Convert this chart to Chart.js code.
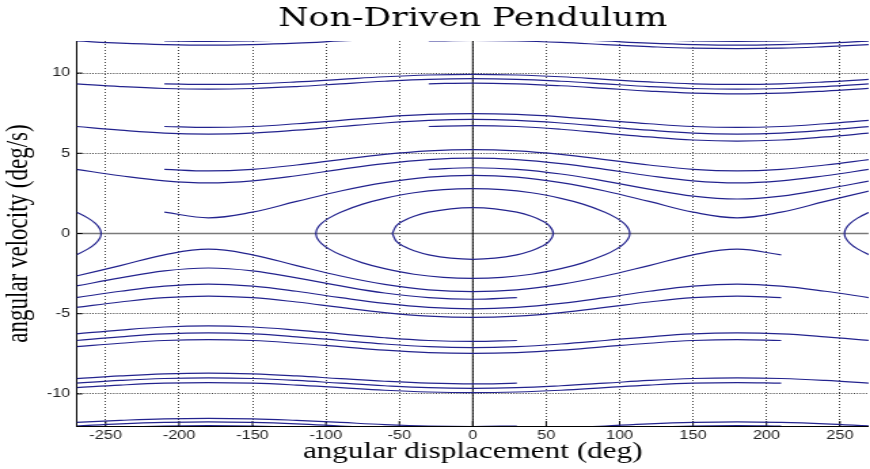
<!DOCTYPE html>
<html>
<head>
<meta charset="utf-8">
<script src="https://cdn.jsdelivr.net/npm/chart.js@4/dist/chart.umd.min.js"></script>
<style>
  html, body { margin: 0; padding: 0; background: #fff; overflow: hidden; width: 870px; height: 469px; }
  #wrap { position: absolute; left: 0; top: 0; width: 641px; height: 469px; transform: scaleX(1.3573); transform-origin: 0 0; }
</style>
</head>
<body>
<div id="wrap"><canvas id="c"></canvas></div>
<script>
// ---- tick labels ----
const xTicks = [-250, -200, -150, -100, -50, 0, 50, 100, 150, 200, 250];
const yTicks = [-10, -5, 0, 5, 10];

// ---- angular displacement samples (deg) ----
const thetaA = [-270,-240,-210,-180,-150,-120,-90,-60,-30,0,30,60,90,120,150,180,210,240,270];
const thetaB = [-210,-180,-150,-120,-90,-60,-30,0,30,60,90,120,150,180,210,240,270];
const thetaC = [-30,0,30,60,90,120,150,180,210,240,270];
const thetaLowB = [-270,-240,-210,-180,-150,-120,-90,-60,-30,0,30,60,90,120,150,180,210];
const thetaLowC = [-270,-240,-210,-180,-150,-120,-90,-60,-30,0,30];

// ---- angular velocity (deg/s), upper (rotating to the right) ----
const velA2 = [4.00,3.60,3.28,3.15,3.28,3.60,4.00,4.36,4.61,4.70,4.61,4.36,4.00,3.60,3.28,3.15,3.28,3.60,4.00];
const velA3 = [6.67,6.44,6.26,6.20,6.26,6.44,6.67,6.89,7.05,7.11,7.05,6.89,6.67,6.44,6.26,6.20,6.26,6.44,6.67];
const velA4 = [9.33,9.16,9.04,9.00,9.04,9.16,9.33,9.49,9.61,9.65,9.61,9.49,9.33,9.16,9.04,9.00,9.04,9.16,9.33];
const velA5 = [12.00,11.87,11.78,11.74,11.78,11.87,12.00,12.13,12.22,12.25,12.22,12.13,12.00,11.87,11.78,11.74,11.78,11.87,12.00];
const velB1 = [1.33,0.98,1.33,2.00,2.65,3.17,3.51,3.62,3.51,3.17,2.65,2.00,1.33,0.98,1.33,2.00,2.65];
const velB2 = [4.00,3.90,4.00,4.27,4.61,4.93,5.15,5.23,5.15,4.93,4.61,4.27,4.00,3.90,4.00,4.27,4.61];
const velB3 = [6.67,6.61,6.67,6.84,7.05,7.27,7.42,7.47,7.42,7.27,7.05,6.84,6.67,6.61,6.67,6.84,7.05];
const velB4 = [9.33,9.29,9.33,9.45,9.61,9.77,9.88,9.92,9.88,9.77,9.61,9.45,9.33,9.29,9.33,9.45,9.61];
const velB5 = [12.00,11.97,12.00,12.09,12.22,12.34,12.43,12.46,12.43,12.34,12.22,12.09,12.00,11.97,12.00,12.09,12.22];
const velC2 = [4.00,4.10,4.00,3.71,3.27,2.77,2.33,2.15,2.33,2.77,3.27];
const velC3 = [6.67,6.73,6.67,6.50,6.26,6.02,5.83,5.76,5.83,6.02,6.26];
const velC4 = [9.33,9.38,9.33,9.21,9.05,8.88,8.75,8.70,8.75,8.88,9.05];
const velC5 = [12.00,12.03,12.00,11.91,11.78,11.65,11.55,11.52,11.55,11.65,11.78];

// ---- angular velocity (deg/s), lower (rotating to the left) ----
const velLowA2 = [-4.00,-3.60,-3.28,-3.15,-3.28,-3.60,-4.00,-4.36,-4.61,-4.70,-4.61,-4.36,-4.00,-3.60,-3.28,-3.15,-3.28,-3.60,-4.00];
const velLowA3 = [-6.67,-6.44,-6.26,-6.20,-6.26,-6.44,-6.67,-6.89,-7.05,-7.11,-7.05,-6.89,-6.67,-6.44,-6.26,-6.20,-6.26,-6.44,-6.67];
const velLowA4 = [-9.33,-9.16,-9.04,-9.00,-9.04,-9.16,-9.33,-9.49,-9.61,-9.65,-9.61,-9.49,-9.33,-9.16,-9.04,-9.00,-9.04,-9.16,-9.33];
const velLowA5 = [-12.00,-11.87,-11.78,-11.74,-11.78,-11.87,-12.00,-12.13,-12.22,-12.25,-12.22,-12.13,-12.00,-11.87,-11.78,-11.74,-11.78,-11.87,-12.00];
const velLowB1 = [-2.65,-2.00,-1.33,-0.98,-1.33,-2.00,-2.65,-3.17,-3.51,-3.62,-3.51,-3.17,-2.65,-2.00,-1.33,-0.98,-1.33];
const velLowB2 = [-4.61,-4.27,-4.00,-3.90,-4.00,-4.27,-4.61,-4.93,-5.15,-5.23,-5.15,-4.93,-4.61,-4.27,-4.00,-3.90,-4.00];
const velLowB3 = [-7.05,-6.84,-6.67,-6.61,-6.67,-6.84,-7.05,-7.27,-7.42,-7.47,-7.42,-7.27,-7.05,-6.84,-6.67,-6.61,-6.67];
const velLowB4 = [-9.61,-9.45,-9.33,-9.29,-9.33,-9.45,-9.61,-9.77,-9.88,-9.92,-9.88,-9.77,-9.61,-9.45,-9.33,-9.29,-9.33];
const velLowB5 = [-12.22,-12.09,-12.00,-11.97,-12.00,-12.09,-12.22,-12.34,-12.43,-12.46,-12.43,-12.34,-12.22,-12.09,-12.00,-11.97,-12.00];
const velLowC2 = [-3.27,-2.77,-2.33,-2.15,-2.33,-2.77,-3.27,-3.71,-4.00,-4.10,-4.00];
const velLowC3 = [-6.26,-6.02,-5.83,-5.76,-5.83,-6.02,-6.26,-6.50,-6.67,-6.73,-6.67];
const velLowC4 = [-9.05,-8.88,-8.75,-8.70,-8.75,-8.88,-9.05,-9.21,-9.33,-9.38,-9.33];
const velLowC5 = [-11.78,-11.65,-11.55,-11.52,-11.55,-11.65,-11.78,-11.91,-12.00,-12.03,-12.00];

// ---- closed orbits (oscillation) ----
const innerTheta = [-54.8,-52,-47,-40,-30,-15,0,15,30,40,47,52,54.8,52,47,40,30,15,0,-15,-30,-40,-47,-52,-54.8];
const innerVel   = [0,0.49,0.80,1.08,1.33,1.54,1.61,1.54,1.33,1.08,0.80,0.49,0,-0.49,-0.80,-1.08,-1.33,-1.54,-1.61,-1.54,-1.33,-1.08,-0.80,-0.49,0];
const outerTheta = [-106.9,-106,-103,-98,-90,-75,-60,-40,-20,0,20,40,60,75,90,98,103,106,106.9,106,103,98,90,75,60,40,20,0,-20,-40,-60,-75,-90,-98,-103,-106,-106.9];
const outerVel   = [0,0.30,0.63,0.96,1.33,1.83,2.19,2.54,2.74,2.80,2.74,2.54,2.19,1.83,1.33,0.96,0.63,0.30,0,-0.30,-0.63,-0.96,-1.33,-1.83,-2.19,-2.54,-2.74,-2.80,-2.74,-2.54,-2.19,-1.83,-1.33,-0.96,-0.63,-0.30,0];
const leftLoopTheta  = [-276,-270,-262,-257,-254,-253.1,-254,-257,-262,-270,-276];
const leftLoopVel    = [1.55,1.33,0.96,0.63,0.30,0,-0.30,-0.63,-0.96,-1.33,-1.55];
const rightLoopTheta = [276,270,262,257,254,253.1,254,257,262,270,276];
const rightLoopVel   = [1.55,1.33,0.96,0.63,0.30,0,-0.30,-0.63,-0.96,-1.33,-1.55];

const curves = [
  [thetaA, velA2], [thetaA, velA3], [thetaA, velA4], [thetaA, velA5],
  [thetaB, velB1], [thetaB, velB2], [thetaB, velB3], [thetaB, velB4], [thetaB, velB5],
  [thetaC, velC2], [thetaC, velC3], [thetaC, velC4], [thetaC, velC5],
  [thetaA, velLowA2], [thetaA, velLowA3], [thetaA, velLowA4], [thetaA, velLowA5],
  [thetaLowB, velLowB1], [thetaLowB, velLowB2], [thetaLowB, velLowB3], [thetaLowB, velLowB4], [thetaLowB, velLowB5],
  [thetaLowC, velLowC2], [thetaLowC, velLowC3], [thetaLowC, velLowC4], [thetaLowC, velLowC5],
  [innerTheta, innerVel], [outerTheta, outerVel],
  [leftLoopTheta, leftLoopVel], [rightLoopTheta, rightLoopVel]
];

const datasets = curves.map(([xs, ys]) => ({
  data: xs.map((x, i) => ({ x: x, y: ys[i] })),
  showLine: true,
  borderColor: '#23238e',
  borderWidth: 1.2,
  pointRadius: 0,
  tension: 0.4,
  fill: false
}));

const axesPlugin = {
  id: 'zeroAxes',
  beforeDatasetsDraw(chart) {
    const { ctx, chartArea, scales } = chart;
    const { left, right, top, bottom } = chartArea;
    const xs = scales.x, ys = scales.y;
    const seg = (x1, y1, x2, y2) => { ctx.beginPath(); ctx.moveTo(x1, y1); ctx.lineTo(x2, y2); ctx.stroke(); };
    ctx.save();
    const y0 = ys.getPixelForValue(0);
    ctx.strokeStyle = '#7a7a7a'; ctx.lineWidth = 1.3;
    seg(left, y0, right, y0);
    const x0 = xs.getPixelForValue(0);
    ctx.strokeStyle = '#000'; ctx.lineWidth = 1;
    seg(x0, top, x0, bottom);
    ctx.strokeStyle = '#000'; ctx.lineWidth = 1;
    xs.ticks.forEach(t => { const p = xs.getPixelForValue(t.value); seg(p, bottom, p, bottom - 5); });
    ys.ticks.forEach(t => { const p = ys.getPixelForValue(t.value); seg(left, p, left + 4, p); });
    ctx.restore();
  }
};

new Chart(document.getElementById('c'), {
  type: 'scatter',
  data: { datasets: datasets },
  plugins: [axesPlugin],
  options: {
    responsive: true,
    maintainAspectRatio: false,
    animation: false,
    events: [],
    layout: { padding: { left: 0, right: 1.1, top: 0, bottom: 0 } },
    elements: { line: { capBezierPoints: false } },
    plugins: {
      legend: { display: false },
      tooltip: { enabled: false },
      title: {
        display: true,
        text: 'Non-Driven Pendulum',
        fullSize: false,
        color: '#000',
        font: { family: 'DejaVu Serif', size: 25.5, weight: 'normal' },
        padding: { top: 4, bottom: 6.4 }
      }
    },
    scales: {
      x: {
        type: 'linear',
        min: -269.5,
        max: 269.5,
        afterBuildTicks: (s) => { s.ticks = xTicks.map(v => ({ value: v })); },
        afterFit: (s) => { s.height = 43; },
        ticks: { color: '#222', padding: 2, font: { family: 'Liberation Sans', size: 12 }, maxRotation: 0 },
        grid: { color: 'rgba(0,0,0,0.75)', lineWidth: 1, drawTicks: false },
        border: { display: true, color: '#000', width: 1, dash: [1, 2] },
        title: {
          display: true,
          text: 'angular displacement (deg)',
          color: '#000',
          font: { family: 'Liberation Serif', size: 23, weight: 'normal' },
          padding: { top: 0, bottom: 3.5 }
        }
      },
      y: {
        type: 'linear',
        min: -12,
        max: 12,
        afterBuildTicks: (s) => { s.ticks = yTicks.map(v => ({ value: v })); },
        afterFit: (s) => { s.width = 56.74; },
        ticks: { color: '#222', padding: 5, font: { family: 'Liberation Sans', size: 12 } },
        grid: { color: 'rgba(0,0,0,0.75)', lineWidth: 1, drawTicks: false },
        border: { display: true, color: '#000', width: 1, dash: [1, 1.2] },
        title: {
          display: true,
          text: 'angular velocity (deg/s)',
          color: '#000',
          font: { family: 'Liberation Serif', size: 23, weight: 'normal' },
          padding: { top: 0, bottom: 0 }
        }
      }
    }
  }
});
</script>
</body>
</html>
